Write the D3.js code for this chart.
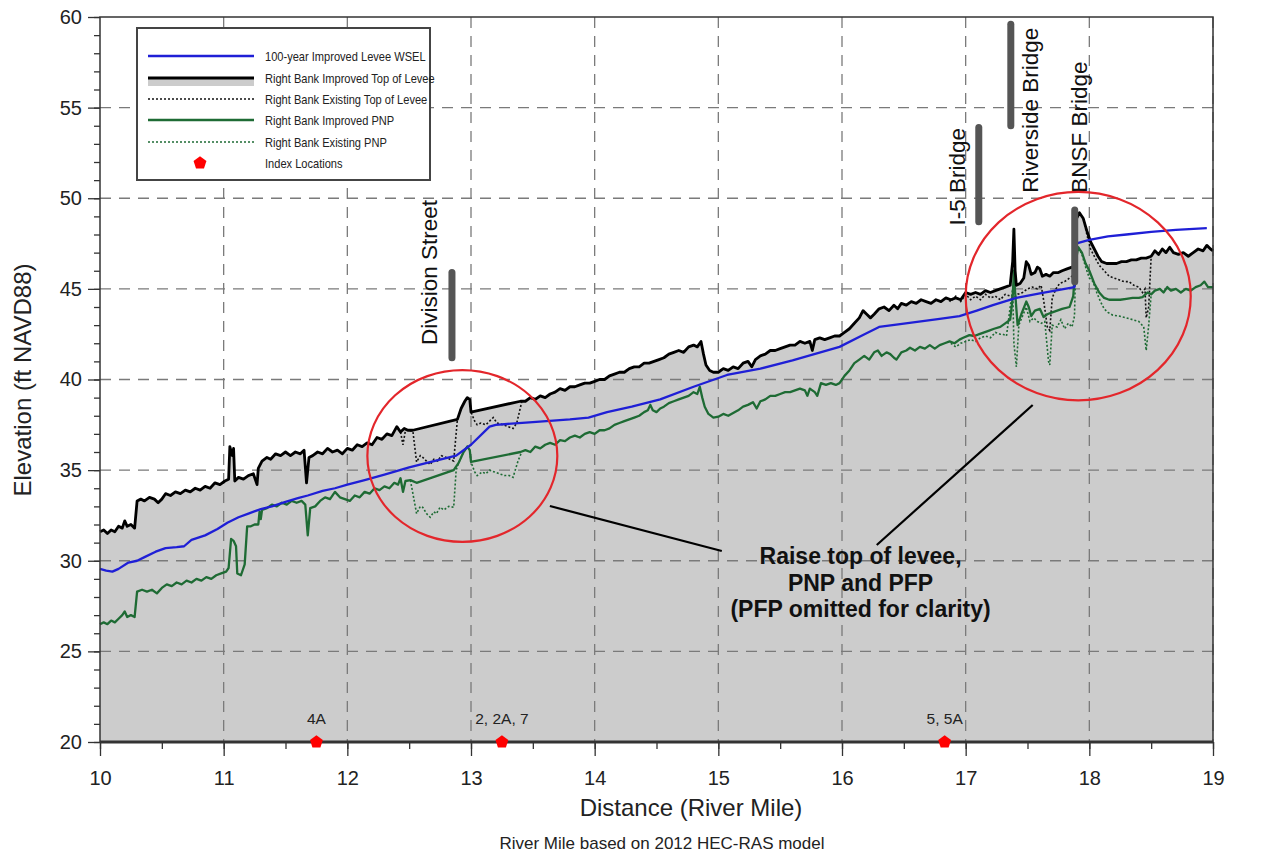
<!DOCTYPE html>
<html>
<head>
<meta charset="utf-8">
<script src="https://cdn.jsdelivr.net/npm/d3@7"></script>
<style>
  body { margin: 0; background: #fff; }
  text { font-family: "Liberation Sans", Arial, sans-serif; }
</style>
</head>
<body>
<svg id="chart" width="1266" height="855"></svg>
<script>
// [river mile, elevation ft]
var topImproved = [
  [10.00,31.6],[10.03,31.7],[10.06,31.5],[10.09,31.7],[10.12,31.6],[10.15,31.9],[10.18,31.8],[10.20,32.2],[10.22,31.9],[10.25,32.0],[10.28,31.8],
  [10.30,33.3],[10.33,33.4],[10.36,33.3],[10.40,33.5],[10.44,33.4],[10.47,33.2],[10.50,33.4],[10.53,33.7],[10.57,33.6],[10.61,33.8],[10.65,33.7],
  [10.69,33.9],[10.73,33.8],[10.77,34.0],[10.81,33.9],[10.85,34.1],[10.89,34.0],[10.93,34.3],[10.97,34.2],[11.01,34.4],[11.04,34.5],[11.05,36.3],
  [11.07,35.8],[11.08,36.2],[11.09,34.4],[11.12,34.6],[11.16,34.5],[11.20,34.7],[11.24,34.8],[11.27,34.2],[11.28,35.1],[11.31,35.5],[11.35,35.7],
  [11.38,35.6],[11.42,35.9],[11.46,35.8],[11.50,36.0],[11.54,35.8],[11.58,36.0],[11.62,35.9],[11.65,36.1],[11.67,34.3],[11.69,35.7],[11.72,35.8],
  [11.76,36.0],[11.80,35.9],[11.84,36.2],[11.88,36.0],[11.92,36.1],[11.96,35.9],[12.00,36.2],[12.04,36.1],[12.08,36.4],[12.12,36.3],[12.16,36.5],
  [12.20,36.4],[12.24,36.8],[12.28,36.7],[12.32,37.0],[12.36,36.9],[12.40,37.4],[12.43,37.1],[12.46,37.3],[12.49,37.2],[12.53,37.2],[12.89,37.8],
  [12.92,38.4],[12.95,38.8],[12.97,39.0],[12.99,38.9],[13.00,38.2],[13.40,38.8],[13.44,38.8],[13.48,39.0],[13.52,38.9],[13.56,39.1],[13.60,39.0],
  [13.64,39.2],[13.68,39.3],[13.72,39.5],[13.76,39.4],[13.80,39.6],[13.84,39.6],[13.88,39.7],[13.92,39.8],[13.96,39.8],[14.00,39.9],[14.04,40.0],
  [14.08,40.0],[14.12,40.2],[14.16,40.3],[14.20,40.4],[14.24,40.4],[14.28,40.6],[14.32,40.7],[14.36,40.7],[14.40,40.9],[14.44,40.9],[14.48,41.0],
  [14.52,41.1],[14.56,41.2],[14.60,41.4],[14.64,41.5],[14.68,41.6],[14.72,41.5],[14.76,41.8],[14.80,41.9],[14.83,41.8],[14.86,42.1],[14.88,41.4],
  [14.90,40.8],[14.93,40.5],[14.96,40.4],[15.00,40.4],[15.04,40.6],[15.08,40.5],[15.12,40.7],[15.16,40.6],[15.20,40.9],[15.24,41.0],[15.27,40.7],
  [15.30,41.1],[15.34,41.3],[15.38,41.4],[15.42,41.6],[15.46,41.6],[15.50,41.7],[15.54,41.8],[15.58,41.9],[15.62,41.9],[15.66,42.1],[15.70,42.0],
  [15.74,42.1],[15.76,41.6],[15.78,42.2],[15.82,42.3],[15.86,42.2],[15.90,42.3],[15.94,42.4],[15.98,42.4],[16.02,42.6],[16.06,42.8],[16.10,43.1],
  [16.14,43.4],[16.17,43.8],[16.20,43.6],[16.23,43.4],[16.26,43.6],[16.30,43.9],[16.34,44.0],[16.38,43.8],[16.42,44.1],[16.45,43.9],[16.48,44.2],
  [16.52,44.1],[16.56,44.3],[16.60,44.2],[16.64,44.4],[16.68,44.3],[16.72,44.2],[16.76,44.4],[16.80,44.3],[16.84,44.5],[16.88,44.4],[16.92,44.5],
  [16.96,44.4],[17.00,44.8],[17.04,44.7],[17.08,44.8],[17.12,44.7],[17.16,44.9],[17.20,44.8],[17.24,44.9],[17.28,45.0],[17.32,45.1],[17.36,45.2],
  [17.38,46.5],[17.39,48.3],[17.40,46.0],[17.41,45.2],[17.44,45.3],[17.47,45.6],[17.49,46.5],[17.51,46.3],[17.53,45.8],[17.56,45.9],[17.58,46.2],
  [17.60,46.1],[17.62,45.7],[17.65,45.8],[17.68,45.7],[17.71,45.9],[17.75,45.9],[17.78,46.0],[17.82,46.1],[17.86,46.2],[17.88,46.3],[17.89,48.8],
  [17.92,49.2],[17.95,48.9],[17.98,48.2],[18.01,47.6],[18.04,47.2],[18.07,46.8],[18.10,46.5],[18.14,46.4],[18.18,46.4],[18.22,46.4],[18.26,46.5],
  [18.30,46.5],[18.34,46.6],[18.38,46.6],[18.42,46.7],[18.46,46.7],[18.50,46.8],[18.53,47.1],[18.56,46.9],[18.59,47.2],[18.62,47.0],[18.65,47.3],
  [18.68,47.0],[18.72,46.9],[18.76,47.0],[18.80,46.8],[18.84,47.0],[18.88,47.2],[18.92,47.1],[18.95,47.4],[18.98,47.2],[19.00,47.1]
];

var topExisting = [
  [[12.43,37.1],[12.45,36.4],[12.47,37.2],[12.53,37.15],[12.56,35.45],[12.59,35.8],[12.61,35.7],[12.64,35.5],[12.67,35.3],[12.70,35.6],[12.73,35.5],
   [12.76,35.8],[12.80,35.7],[12.83,35.6],[12.86,35.5],[12.89,37.8],[12.92,38.4],[12.95,38.8],[12.97,39.0],[12.99,38.9],[13.00,38.2],[13.03,37.7],
   [13.05,37.5],[13.08,37.6],[13.12,37.5],[13.15,37.7],[13.18,37.9],[13.21,37.6],[13.26,37.5],[13.30,37.4],[13.34,37.3],[13.37,37.6],[13.41,38.75]],
  [[16.84,44.5],[16.88,44.3],[16.92,44.6],[16.96,44.3],[17.00,44.7],[17.04,44.4],[17.08,44.6],[17.12,44.4],[17.16,44.7],[17.20,44.5],[17.24,44.6],
   [17.28,44.4],[17.32,44.7],[17.36,44.6],[17.39,44.5],[17.42,44.7],[17.46,44.8],[17.50,45.0],[17.54,45.1],[17.58,45.0],[17.61,45.2],[17.63,44.4],
   [17.66,42.9],[17.68,42.7],[17.70,44.5],[17.73,45.0],[17.76,45.3],[17.80,45.4],[17.84,45.6],[17.88,45.8],[17.89,48.8],[17.92,49.2],[17.95,48.9],
   [17.98,48.0],[18.01,47.2],[18.04,46.8],[18.08,46.3],[18.12,46.0],[18.16,45.7],[18.20,45.6],[18.24,45.5],[18.28,45.4],[18.32,45.4],[18.36,45.2],
   [18.40,45.1],[18.43,44.8],[18.45,45.0],[18.46,43.4],[18.48,44.0],[18.50,46.8]]
];

var wsel = [
  [10.00,29.55],[10.05,29.45],[10.10,29.4],[10.15,29.55],[10.23,29.9],[10.30,30.0],[10.36,30.2],[10.45,30.5],[10.53,30.7],[10.62,30.75],[10.68,30.8],
  [10.74,31.15],[10.85,31.4],[10.95,31.75],[11.03,32.1],[11.12,32.4],[11.20,32.6],[11.30,32.85],[11.39,33.0],[11.50,33.25],[11.60,33.45],[11.68,33.6],
  [11.80,33.85],[11.90,34.0],[12.00,34.2],[12.14,34.45],[12.30,34.75],[12.50,35.15],[12.70,35.5],[12.88,35.8],[13.00,36.4],[13.15,37.4],[13.20,37.5],
  [13.50,37.65],[13.80,37.8],[13.95,37.9],[14.10,38.2],[14.30,38.5],[14.53,38.9],[14.80,39.6],[15.07,40.25],[15.34,40.6],[15.60,41.05],[15.98,41.8],
  [16.17,42.45],[16.30,42.9],[16.47,43.05],[16.79,43.35],[16.95,43.5],[17.09,43.8],[17.22,44.1],[17.41,44.5],[17.60,44.75],[17.88,45.1],[17.89,47.5],
  [18.00,47.7],[18.15,47.9],[18.30,48.0],[18.50,48.15],[18.70,48.25],[18.95,48.35]
];

var pnpImproved = [
  [10.00,26.5],[10.03,26.6],[10.06,26.5],[10.09,26.7],[10.12,26.6],[10.15,26.8],[10.18,27.0],[10.20,27.2],[10.22,26.9],[10.25,27.0],[10.28,26.9],
  [10.30,28.3],[10.34,28.4],[10.38,28.3],[10.42,28.4],[10.46,28.2],[10.50,28.5],[10.54,28.7],[10.58,28.6],[10.62,28.8],[10.66,28.7],[10.70,28.9],
  [10.74,28.8],[10.78,29.0],[10.82,28.9],[10.86,29.1],[10.90,29.0],[10.94,29.2],[10.98,29.3],[11.02,29.4],[11.04,29.6],[11.06,31.2],[11.08,31.1],
  [11.10,30.8],[11.11,29.3],[11.14,29.2],[11.17,29.8],[11.19,31.9],[11.22,31.9],[11.25,32.0],[11.28,32.0],[11.29,32.7],[11.30,32.3],[11.31,32.8],
  [11.35,32.9],[11.39,33.1],[11.43,33.0],[11.47,33.2],[11.51,33.1],[11.55,33.3],[11.59,33.2],[11.63,33.3],[11.66,33.1],[11.68,31.4],[11.70,32.9],
  [11.74,33.0],[11.78,33.3],[11.82,33.5],[11.86,33.4],[11.90,33.8],[11.94,33.5],[11.98,33.4],[12.02,33.3],[12.06,33.6],[12.10,33.5],[12.14,33.8],
  [12.18,33.7],[12.22,34.0],[12.26,33.9],[12.30,34.1],[12.34,34.0],[12.38,34.3],[12.41,34.2],[12.43,34.55],[12.45,33.8],[12.47,34.4],[12.51,34.45],
  [12.56,34.3],[12.86,35.0],[12.90,35.4],[12.94,36.0],[12.97,36.3],[12.99,36.1],[13.00,35.45],[13.40,36.0],[13.44,36.1],[13.48,36.0],[13.52,36.3],
  [13.56,36.2],[13.60,36.4],[13.64,36.5],[13.68,36.4],[13.72,36.65],[13.76,36.6],[13.80,36.8],[13.84,36.9],[13.88,36.8],[13.92,37.0],[13.96,37.1],
  [14.00,37.0],[14.04,37.2],[14.08,37.2],[14.12,37.3],[14.16,37.5],[14.20,37.6],[14.24,37.7],[14.28,37.8],[14.32,37.9],[14.36,38.0],[14.40,38.2],
  [14.43,38.3],[14.45,38.6],[14.47,38.3],[14.50,38.2],[14.53,38.4],[14.56,38.5],[14.60,38.7],[14.64,38.8],[14.68,38.9],[14.72,39.0],[14.76,39.1],
  [14.80,39.3],[14.83,39.2],[14.85,39.6],[14.87,39.0],[14.89,38.5],[14.92,38.1],[14.96,37.9],[15.00,37.95],[15.04,38.1],[15.08,38.0],[15.12,38.15],
  [15.16,38.3],[15.20,38.5],[15.24,38.6],[15.28,38.75],[15.31,38.4],[15.34,38.8],[15.38,38.9],[15.42,39.1],[15.46,39.1],[15.50,39.2],[15.54,39.3],
  [15.58,39.3],[15.62,39.4],[15.66,39.5],[15.70,39.4],[15.72,39.1],[15.74,39.5],[15.78,39.3],[15.80,39.1],[15.83,39.8],[15.87,39.7],[15.91,39.8],
  [15.95,39.7],[15.98,39.8],[16.02,40.2],[16.06,40.5],[16.10,40.9],[16.14,41.1],[16.18,41.3],[16.22,41.1],[16.26,41.5],[16.29,41.6],[16.32,41.3],
  [16.36,41.5],[16.39,41.4],[16.42,41.2],[16.44,41.1],[16.48,41.5],[16.52,41.6],[16.55,41.75],[16.59,41.6],[16.63,41.8],[16.67,41.7],[16.71,41.9],
  [16.75,41.7],[16.79,41.9],[16.83,42.0],[16.87,42.1],[16.91,42.0],[16.95,42.2],[16.98,42.3],[17.03,42.45],[17.07,42.4],[17.11,42.5],[17.15,42.6],
  [17.19,42.7],[17.23,42.8],[17.28,42.9],[17.32,43.1],[17.36,43.3],[17.38,44.5],[17.39,46.0],[17.40,44.8],[17.42,43.0],[17.45,43.6],[17.49,44.3],
  [17.51,44.0],[17.53,43.5],[17.56,43.8],[17.60,43.9],[17.63,43.45],[17.66,43.6],[17.70,43.7],[17.74,43.8],[17.78,43.9],[17.84,44.0],[17.87,44.6],
  [17.89,46.5],[17.91,47.3],[17.94,47.0],[17.97,46.4],[18.00,46.0],[18.04,45.3],[18.08,44.8],[18.12,44.5],[18.16,44.4],[18.20,44.4],[18.25,44.4],
  [18.30,44.45],[18.35,44.5],[18.40,44.5],[18.43,44.55],[18.47,44.8],[18.50,44.7],[18.53,44.9],[18.57,45.0],[18.60,44.8],[18.63,45.1],[18.66,44.9],
  [18.70,45.0],[18.74,44.8],[18.78,45.0],[18.82,44.9],[18.86,45.1],[18.90,45.2],[18.93,45.4],[18.96,45.1],[19.00,45.1]
];

var pnpExisting = [
  [[12.51,34.45],[12.56,32.6],[12.59,33.0],[12.61,32.95],[12.64,32.6],[12.67,32.4],[12.70,32.7],[12.72,32.6],[12.75,32.95],[12.78,32.8],[12.82,33.0],
   [12.86,32.95],[12.88,35.0],[12.90,35.4],[12.94,36.0],[12.97,36.3],[12.99,36.1],[13.00,35.45],[13.03,34.9],[13.05,34.7],[13.09,34.9],[13.12,34.8],
   [13.15,35.0],[13.19,34.9],[13.23,34.8],[13.27,34.7],[13.31,34.7],[13.34,34.6],[13.38,35.5],[13.41,36.0]],
  [[16.88,42.0],[16.92,41.8],[16.96,42.0],[17.00,42.1],[17.04,42.2],[17.08,42.1],[17.12,42.3],[17.16,42.4],[17.20,42.3],[17.24,42.6],[17.28,42.5],
   [17.30,42.5],[17.33,42.4],[17.36,44.0],[17.38,45.0],[17.39,42.0],[17.41,40.7],[17.43,43.0],[17.46,43.5],[17.49,44.0],[17.52,43.2],[17.55,43.4],
   [17.58,43.2],[17.61,43.1],[17.64,43.2],[17.67,41.0],[17.68,40.8],[17.70,43.0],[17.74,42.9],[17.77,43.3],[17.80,42.8],[17.83,43.1],[17.86,42.9],
   [17.88,43.5],[17.89,46.5],[17.91,47.3],[17.94,46.9],[17.97,46.2],[18.00,45.6],[18.03,45.4],[18.06,44.8],[18.09,44.3],[18.12,43.9],[18.15,43.7],
   [18.19,43.55],[18.24,43.5],[18.30,43.4],[18.35,43.3],[18.40,43.2],[18.44,42.9],[18.46,41.6],[18.48,43.0],[18.50,44.7]]
];

// bridges: name, bar mile, bar bottom/top elev, label mile (baseline), label start elev
var bridgeNames  = ["Division Street", "I-5 Bridge", "Riverside Bridge", "BNSF Bridge"];
var bridgeMile   = [12.846, 17.106, 17.365, 17.882];
var bridgeBarLo  = [41.2, 48.7, 54.0, 45.4];
var bridgeBarHi  = [45.9, 53.9, 59.6, 49.35];
var bridgeTextX  = [12.724, 16.993, 17.583, 17.979];
var bridgeTextY  = [41.9, 48.5, 50.3, 50.3];

var indexNames = ["4A", "2, 2A, 7", "5, 5A"];
var indexMile  = [11.75, 13.25, 16.83];

// circled areas: centre mile, centre elev, radius in miles, radius in ft
var circles = [[12.93, 35.78, 0.768, 4.74], [17.91, 44.6, 0.91, 5.75]];
var pointers = [[[13.638, 33.02], [15.028, 30.54]], [[16.281, 30.87], [17.542, 38.59]]];
var noteLines = ["Raise top of levee,", "PNP and PFP", "(PFP omitted for clarity)"];

var xTicks = d3.range(10, 20, 1);
var yTicks = d3.range(20, 65, 5);

var svg = d3.select("#chart");
svg.append("rect").attr("width", 1266).attr("height", 855).attr("fill", "#fff");

var plotL = 100, plotR = 1213, plotT = 17, plotB = 742;
var x = d3.scaleLinear().domain([10, 19]).range([plotL, plotR]);
var y = d3.scaleLinear().domain([20, 60]).range([plotB, plotT]);

var line = d3.line().x(d => x(d[0])).y(d => y(d[1]));
var area = d3.area().x(d => x(d[0])).y0(y(20)).y1(d => y(d[1]));

svg.append("path").datum(topImproved).attr("d", area).attr("fill", "#cccccc");

// grid
var grid = svg.append("g").attr("stroke", "#7a7a7a").attr("stroke-width", 1.3).attr("stroke-dasharray", "11,8");
grid.selectAll(".gx").data(xTicks.slice(1)).enter().append("line")
  .attr("x1", d => x(d)).attr("x2", d => x(d)).attr("y1", y(60)).attr("y2", y(20));
grid.selectAll(".gy").data(yTicks.slice(1, -1)).enter().append("line")
  .attr("y1", d => y(d)).attr("y2", d => y(d)).attr("x1", x(10)).attr("x2", x(19));

// existing (dotted) series
svg.selectAll(".extop").data(topExisting).enter().append("path")
  .attr("d", line).attr("fill", "none").attr("stroke", "#111").attr("stroke-width", 1.6).attr("stroke-dasharray", "2,2");
svg.selectAll(".expnp").data(pnpExisting).enter().append("path")
  .attr("d", line).attr("fill", "none").attr("stroke", "#1e6b34").attr("stroke-width", 1.6).attr("stroke-dasharray", "2,2");

svg.append("path").datum(pnpImproved).attr("d", line)
  .attr("fill", "none").attr("stroke", "#1e6b34").attr("stroke-width", 2.3).attr("stroke-linejoin", "round");
svg.append("path").datum(topImproved).attr("d", line)
  .attr("fill", "none").attr("stroke", "#000").attr("stroke-width", 2.8).attr("stroke-linejoin", "round");
svg.append("path").datum(wsel).attr("d", line)
  .attr("fill", "none").attr("stroke", "#1f1fd6").attr("stroke-width", 2.3).attr("stroke-linejoin", "round");

// bridges
bridgeNames.forEach(function (name, i) {
  svg.append("line")
    .attr("x1", x(bridgeMile[i])).attr("x2", x(bridgeMile[i]))
    .attr("y1", y(bridgeBarLo[i])).attr("y2", y(bridgeBarHi[i]))
    .attr("stroke", "#555").attr("stroke-width", 7).attr("stroke-linecap", "round");
  svg.append("text")
    .attr("transform", "translate(" + x(bridgeTextX[i]) + "," + y(bridgeTextY[i]) + ") rotate(-90)")
    .attr("font-size", 22.5).attr("fill", "#111")
    .text(name);
});

// circles and pointers
svg.selectAll(".circ").data(circles).enter().append("ellipse")
  .attr("cx", d => x(d[0])).attr("cy", d => y(d[1]))
  .attr("rx", d => x(d[0] + d[2]) - x(d[0])).attr("ry", d => y(d[1]) - y(d[1] + d[3]))
  .attr("fill", "none").attr("stroke", "#e3262b").attr("stroke-width", 2.2);
svg.selectAll(".ptr").data(pointers).enter().append("path")
  .attr("d", line).attr("stroke", "#000").attr("stroke-width", 2.2);

var note = svg.append("text").attr("text-anchor", "middle").attr("font-size", 23).attr("font-weight", "bold").attr("fill", "#111");
noteLines.forEach(function (t, i) {
  note.append("tspan").attr("x", x(16.15)).attr("y", y(29.8) + i * 26.5).text(t);
});

// axes
var axisColor = "#333";
svg.append("g").attr("transform", "translate(" + plotL + ",0)")
  .call(d3.axisLeft(y).tickValues(yTicks).tickSize(12).tickPadding(6));
svg.append("g").attr("transform", "translate(" + plotL + ",0)")
  .call(d3.axisLeft(y).tickValues(d3.range(20, 61, 1)).tickSize(6).tickFormat(""));
svg.append("g").attr("transform", "translate(0," + plotB + ")")
  .call(d3.axisBottom(x).tickValues(xTicks).tickSize(14).tickPadding(15));
svg.append("g").attr("transform", "translate(0," + plotB + ")")
  .call(d3.axisBottom(x).tickValues(d3.range(10, 19.01, 0.5)).tickSize(7).tickFormat(""));
svg.selectAll(".domain").remove();
svg.selectAll(".tick line").attr("stroke", axisColor).attr("stroke-width", 1.3);
svg.selectAll(".tick text").attr("font-size", 20).attr("fill", "#222").attr("font-family", "Liberation Sans, Arial, sans-serif");

svg.append("rect").attr("x", plotL).attr("y", plotT).attr("width", plotR - plotL).attr("height", plotB - plotT)
  .attr("fill", "none").attr("stroke", "#333").attr("stroke-width", 1.5);
svg.append("line").attr("x1", plotL).attr("x2", plotR).attr("y1", plotB).attr("y2", plotB)
  .attr("stroke", "#333").attr("stroke-width", 3);

// index locations
var pentagon = {
  draw: function (ctx, size) {
    var r = Math.sqrt(size / 2.4);
    for (var k = 0; k < 5; k++) {
      var a = -Math.PI / 2 + k * 2 * Math.PI / 5;
      if (k === 0) ctx.moveTo(r * Math.cos(a), r * Math.sin(a)); else ctx.lineTo(r * Math.cos(a), r * Math.sin(a));
    }
    ctx.closePath();
  }
};
var marker = d3.symbol().type(pentagon).size(110);
svg.selectAll(".idx").data(indexMile).enter().append("path")
  .attr("d", marker).attr("transform", d => "translate(" + x(d) + "," + y(20) + ")").attr("fill", "#ff0000");
svg.selectAll(".idxl").data(indexNames).enter().append("text")
  .attr("x", (d, i) => x(indexMile[i])).attr("y", y(20) - 18).attr("text-anchor", "middle")
  .attr("font-size", 15.5).attr("fill", "#222").text(d => d);

// titles
svg.append("text").attr("x", 691).attr("y", 816).attr("text-anchor", "middle").attr("font-size", 24).attr("fill", "#222")
  .text("Distance (River Mile)");
svg.append("text").attr("x", 662).attr("y", 849).attr("text-anchor", "middle").attr("font-size", 17).attr("fill", "#222")
  .text("River Mile based on 2012 HEC-RAS model");
svg.append("text").attr("transform", "translate(31,380) rotate(-90)").attr("text-anchor", "middle").attr("font-size", 24).attr("fill", "#222")
  .text("Elevation (ft NAVD88)");

// legend
var legendNames = ["100-year Improved Levee WSEL", "Right Bank Improved Top of Levee", "Right Bank Existing Top of Levee",
                   "Right Bank Improved PNP", "Right Bank Existing PNP", "Index Locations"];
var lg = svg.append("g");
lg.append("rect").attr("x", 137).attr("y", 28).attr("width", 293).attr("height", 152)
  .attr("fill", "#fff").attr("stroke", "#444").attr("stroke-width", 2);
var rowY = [56, 78, 99, 120, 142, 163];
lg.append("rect").attr("x", 148).attr("y", rowY[1]).attr("width", 106).attr("height", 8).attr("fill", "#cccccc");
var sw = [
  {c: "#1f1fd6", w: 2.3, d: null}, {c: "#000", w: 2.8, d: null}, {c: "#111", w: 1.6, d: "2,2"},
  {c: "#1e6b34", w: 2.3, d: null}, {c: "#1e6b34", w: 1.6, d: "2,2"}
];
sw.forEach(function (s, i) {
  lg.append("line").attr("x1", 148).attr("x2", 254).attr("y1", rowY[i]).attr("y2", rowY[i])
    .attr("stroke", s.c).attr("stroke-width", s.w).attr("stroke-dasharray", s.d);
});
lg.append("path").attr("d", marker).attr("transform", "translate(200," + rowY[5] + ")").attr("fill", "#ff0000");
lg.selectAll(".lt").data(legendNames).enter().append("text")
  .attr("x", 265).attr("y", (d, i) => rowY[i] + 5).attr("font-size", 13.5).attr("fill", "#222").text(d => d)
  .each(function () { d3.select(this).attr("textLength", this.getComputedTextLength() * 0.82).attr("lengthAdjust", "spacingAndGlyphs"); });
</script>
</body>
</html>
